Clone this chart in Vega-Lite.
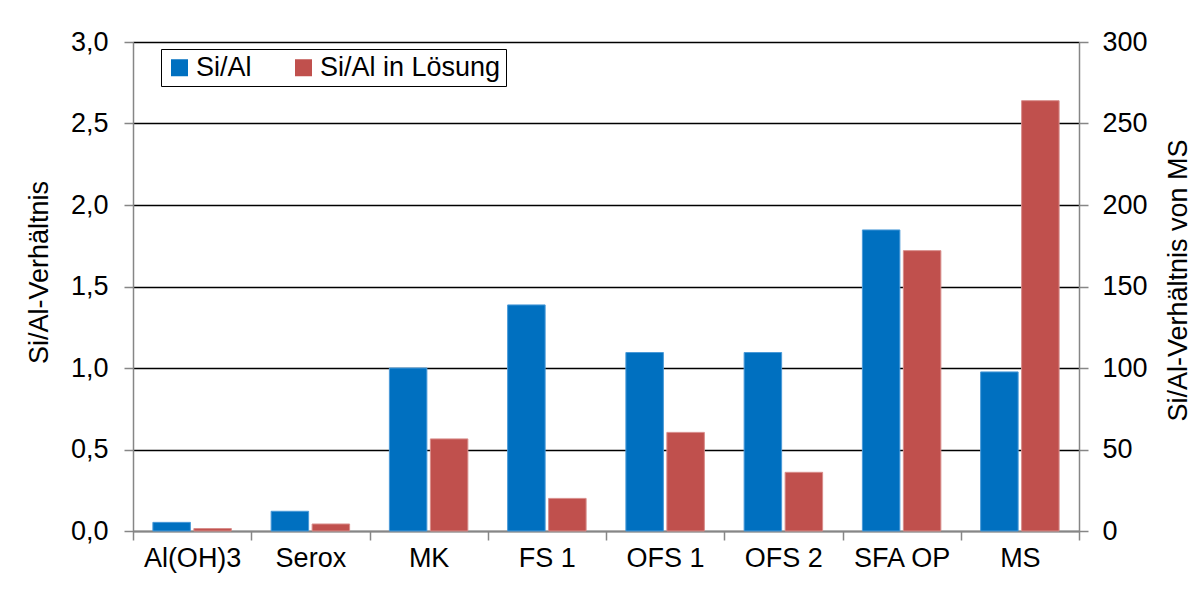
{
  "$schema": "https://vega.github.io/schema/vega-lite/v6.json",
  "width": 946,
  "height": 489,
  "autosize": {"type": "none"},
  "padding": {"left": 133, "top": 42, "right": 124, "bottom": 69},
  "background": "white",
  "config": {
    "view": {"stroke": null},
    "font": "Liberation Sans",
    "axis": {
      "labelFont": "Liberation Sans",
      "titleFont": "Liberation Sans",
      "labelFontSize": 27,
      "titleFontSize": 27,
      "labelColor": "black",
      "titleColor": "black",
      "titleFontWeight": "normal",
      "domainColor": "#868686",
      "domainWidth": 1.5,
      "tickColor": "#868686",
      "tickWidth": 1.5,
      "tickSize": 9
    }
  },
  "data": {
    "values": [
      {"cat": "Al(OH)3", "series": "Si/Al", "value": 0.053},
      {"cat": "Al(OH)3", "series": "Si/Al in Lösung", "value": 1.5},
      {"cat": "Serox", "series": "Si/Al", "value": 0.121},
      {"cat": "Serox", "series": "Si/Al in Lösung", "value": 4.3},
      {"cat": "MK", "series": "Si/Al", "value": 1.0},
      {"cat": "MK", "series": "Si/Al in Lösung", "value": 56.5},
      {"cat": "FS 1", "series": "Si/Al", "value": 1.387},
      {"cat": "FS 1", "series": "Si/Al in Lösung", "value": 20},
      {"cat": "OFS 1", "series": "Si/Al", "value": 1.095},
      {"cat": "OFS 1", "series": "Si/Al in Lösung", "value": 60.5},
      {"cat": "OFS 2", "series": "Si/Al", "value": 1.095},
      {"cat": "OFS 2", "series": "Si/Al in Lösung", "value": 36},
      {"cat": "SFA OP", "series": "Si/Al", "value": 1.847},
      {"cat": "SFA OP", "series": "Si/Al in Lösung", "value": 172},
      {"cat": "MS", "series": "Si/Al", "value": 0.976},
      {"cat": "MS", "series": "Si/Al in Lösung", "value": 264}
    ]
  },
  "encoding": {
    "x": {
      "field": "cat",
      "type": "nominal",
      "sort": ["Al(OH)3", "Serox", "MK", "FS 1", "OFS 1", "OFS 2", "SFA OP", "MS"],
      "scale": {"paddingInner": 0, "paddingOuter": 0},
      "axis": {
        "title": null,
        "labelAngle": 0,
        "tickBand": "extent",
        "labelPadding": 5
      }
    },
    "xOffset": {
      "field": "series",
      "type": "nominal",
      "scale": {"domain": ["Si/Al", "Si/Al in Lösung"], "paddingInner": 0.085, "paddingOuter": 0.485}
    },
    "color": {
      "field": "series",
      "type": "nominal",
      "scale": {"domain": ["Si/Al", "Si/Al in Lösung"], "range": ["#0070C0", "#C0504D"]},
      "legend": {
        "title": null,
        "orient": "none",
        "legendX": 28,
        "legendY": 7,
        "direction": "horizontal",
        "symbolType": "square",
        "symbolSize": 289,
        "symbolStrokeWidth": 0,
        "labelFontSize": 27,
        "labelFont": "Liberation Sans",
        "labelColor": "black",
        "labelLimit": 400,
        "labelOffset": 3,
        "columnPadding": 38,
        "padding": 5,
        "strokeColor": "black",
        "fillColor": "white"
      }
    }
  },
  "layer": [
    {
      "transform": [{"filter": "datum.series === 'Si/Al'"}],
      "mark": {"type": "bar", "stroke": "#4a9ad8", "strokeWidth": 1},
      "encoding": {
        "y": {
          "field": "value",
          "type": "quantitative",
          "scale": {"domain": [0, 3], "nice": false},
          "axis": {
            "orient": "left",
            "title": "Si/Al-Verhältnis",
            "values": [0, 0.5, 1, 1.5, 2, 2.5, 3],
            "labelExpr": "replace(format(datum.value, '.1f'), '.', ',')",
            "labelPadding": 16,
            "titlePadding": 17,
            "titleY": 230,
            "grid": true,
            "gridColor": "black",
            "gridWidth": 1.3
          }
        }
      }
    },
    {
      "transform": [{"filter": "datum.series === 'Si/Al in Lösung'"}],
      "mark": {"type": "bar", "stroke": "#d88d8b", "strokeWidth": 1},
      "encoding": {
        "y": {
          "field": "value",
          "type": "quantitative",
          "scale": {"domain": [0, 300], "nice": false},
          "axis": {
            "orient": "right",
            "title": "Si/Al-Verhältnis von MS",
            "values": [0, 50, 100, 150, 200, 250, 300],
            "labelPadding": 14,
            "titleAngle": 270,
            "titleBaseline": "top",
            "titlePadding": 18,
            "titleY": 238,
            "grid": false
          }
        }
      }
    }
  ],
  "resolve": {"scale": {"y": "independent"}, "axis": {"y": "independent"}}
}
